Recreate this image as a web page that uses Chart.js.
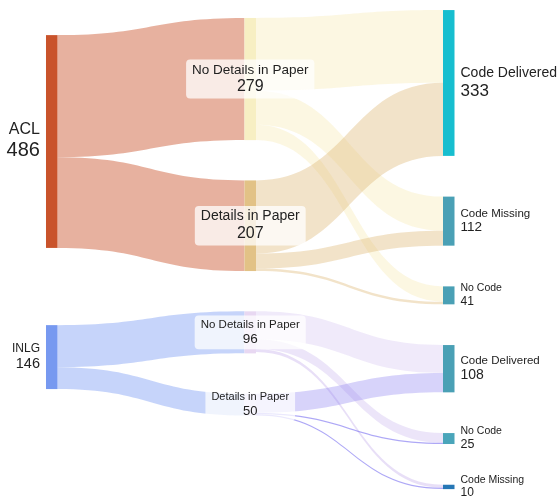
<!DOCTYPE html>
<html>
<head>
<meta charset="utf-8">
<script src="https://cdn.jsdelivr.net/npm/chart.js@4.4.1/dist/chart.umd.min.js"></script>
<style>
  body { margin: 0; background: #fff; }
  #wrap { width: 560px; height: 497px; position: relative; }
</style>
</head>
<body>
<div id="wrap"><canvas id="sankey"></canvas></div>
<script>
// nodes
const nodeNames = ['ACL', 'INLG',
  'No Details in Paper', 'Details in Paper', 'No Details in Paper', 'Details in Paper',
  'Code Delivered', 'Code Missing', 'No Code', 'Code Delivered', 'No Code', 'Code Missing'];
const nodeColumns = [0, 0, 1, 1, 1, 1, 2, 2, 2, 2, 2, 2];

// flows (source index -> target index)
const linkSources = [0, 0, 1, 1, 2, 2, 2, 3, 3, 3, 4, 4, 4, 5, 5, 5];
const linkTargets = [2, 3, 4, 5, 6, 7, 8, 6, 7, 8, 9, 10, 11, 9, 10, 11];
const linkValues = [279, 207, 96, 50, 166, 78, 35, 167, 34, 6, 64, 22, 7, 44, 3, 3];

// styles
const nodeColors = ['#c9532b', '#7799f0', '#f7efc3', '#e2c286', '#e8d8f2', '#dedafa',
  '#17becf', '#4aa0b5', '#4aa0b5', '#4aa0b5', '#4aa5ba', '#2677b5'];
const linkColors = [
  'rgba(201,83,43,0.45)', 'rgba(201,83,43,0.45)',
  'rgba(120,153,242,0.42)', 'rgba(120,153,242,0.42)',
  'rgba(245,225,140,0.25)', 'rgba(245,225,140,0.25)', 'rgba(245,225,140,0.25)',
  'rgba(222,184,120,0.4)', 'rgba(222,184,120,0.4)', 'rgba(222,184,120,0.4)',
  'rgba(180,150,230,0.2)', 'rgba(180,150,230,0.25)', 'rgba(180,150,230,0.3)',
  'rgba(140,130,240,0.35)', 'rgba(120,110,240,0.6)', 'rgba(120,110,240,0.6)'
];
const nameFont = [16, 12, 13.5, 14, 11.5, 11, 14, 11.5, 10.5, 11.5, 10.5, 10.5];
const valueFont = [20, 14.5, 16, 16, 13.5, 13, 17, 13.5, 12, 14, 12.5, 12];

const nodeWidth = 11.5;      // px
const nodeGap = [0, 92, 93]; // flow units between stacked nodes
const columnTop = [0, 41, 23];
const fontFamily = '"Liberation Sans", Arial, sans-serif';

function layout() {
  const n = nodeNames.length;
  const inSum = new Array(n).fill(0);
  const outSum = new Array(n).fill(0);
  linkValues.forEach((v, i) => {
    outSum[linkSources[i]] += v;
    inSum[linkTargets[i]] += v;
  });
  const size = inSum.map((v, i) => Math.max(v, outSum[i]));
  const top = new Array(n).fill(0);

  // right and middle columns are stacked from the top
  [2, 1].forEach(c => {
    let y = columnTop[c];
    nodeColumns.forEach((col, i) => {
      if (col === c) { top[i] = y; y += size[i] + nodeGap[c]; }
    });
  });
  // first column sits at the weighted centre of its targets
  nodeColumns.forEach((col, i) => {
    if (col !== 0) return;
    let sum = 0, w = 0;
    linkValues.forEach((v, k) => {
      if (linkSources[k] === i) {
        const t = linkTargets[k];
        sum += v * (top[t] + size[t] / 2);
        w += v;
      }
    });
    top[i] = sum / w - size[i] / 2;
  });

  // offsets of each flow inside its source and target nodes
  const srcOff = new Array(linkValues.length).fill(0);
  const tgtOff = new Array(linkValues.length).fill(0);
  for (let i = 0; i < n; i++) {
    const outs = linkValues.map((v, k) => k).filter(k => linkSources[k] === i)
      .sort((a, b) => top[linkTargets[a]] - top[linkTargets[b]]);
    let off = 0;
    outs.forEach(k => { srcOff[k] = off; off += linkValues[k]; });
    const ins = linkValues.map((v, k) => k).filter(k => linkTargets[k] === i)
      .sort((a, b) => top[linkSources[a]] - top[linkSources[b]]);
    off = 0;
    ins.forEach(k => { tgtOff[k] = off; off += linkValues[k]; });
  }
  return { size, top, srcOff, tgtOff };
}

const L = layout();

function roundRect(ctx, x, y, w, h, r) {
  ctx.beginPath();
  ctx.moveTo(x + r, y);
  ctx.lineTo(x + w - r, y);
  ctx.quadraticCurveTo(x + w, y, x + w, y + r);
  ctx.lineTo(x + w, y + h - r);
  ctx.quadraticCurveTo(x + w, y + h, x + w - r, y + h);
  ctx.lineTo(x + r, y + h);
  ctx.quadraticCurveTo(x, y + h, x, y + h - r);
  ctx.lineTo(x, y + r);
  ctx.quadraticCurveTo(x, y, x + r, y);
  ctx.closePath();
}

const sankeyPlugin = {
  id: 'sankey',
  afterDatasetsDraw(chart) {
    const ctx = chart.ctx;
    const xs = chart.scales.x, ys = chart.scales.y;
    const px = c => xs.getPixelForValue(c);
    const py = v => ys.getPixelForValue(v);
    ctx.save();

    // flows
    linkValues.forEach((v, k) => {
      const s = linkSources[k], t = linkTargets[k];
      const x0 = px(nodeColumns[s]) + nodeWidth;
      const x1 = px(nodeColumns[t]);
      const y0a = py(L.top[s] + L.srcOff[k]), y0b = py(L.top[s] + L.srcOff[k] + v);
      const y1a = py(L.top[t] + L.tgtOff[k]), y1b = py(L.top[t] + L.tgtOff[k] + v);
      const xm = (x0 + x1) / 2;
      ctx.beginPath();
      ctx.moveTo(x0, y0a);
      ctx.bezierCurveTo(xm, y0a, xm, y1a, x1, y1a);
      ctx.lineTo(x1, y1b);
      ctx.bezierCurveTo(xm, y1b, xm, y0b, x0, y0b);
      ctx.closePath();
      ctx.fillStyle = linkColors[k];
      ctx.fill();
    });

    // nodes
    nodeNames.forEach((name, i) => {
      const x = px(nodeColumns[i]);
      const y0 = py(L.top[i]), y1 = py(L.top[i] + L.size[i]);
      ctx.fillStyle = nodeColors[i];
      ctx.fillRect(x, y0, nodeWidth, y1 - y0);
    });

    // labels
    ctx.textBaseline = 'middle';
    nodeNames.forEach((name, i) => {
      const col = nodeColumns[i];
      const x = px(col);
      const cy = (py(L.top[i]) + py(L.top[i] + L.size[i])) / 2;
      const h1 = nameFont[i] * 1.15, h2 = valueFont[i] * 1.15;
      const top = cy - (h1 + h2) / 2;
      const yName = top + h1 / 2, yVal = top + h1 + h2 / 2;
      const value = String(Math.round(L.size[i]));
      const fName = nameFont[i] + 'px ' + fontFamily;
      const fVal = valueFont[i] + 'px ' + fontFamily;
      let tx;
      if (col === 0) {
        ctx.textAlign = 'right';
        tx = x - 6;
      } else if (col === 2) {
        ctx.textAlign = 'left';
        tx = x + nodeWidth + 6;
      } else {
        ctx.textAlign = 'center';
        tx = x + nodeWidth / 2;
        ctx.font = fName;
        const w1 = ctx.measureText(name).width;
        ctx.font = fVal;
        const w2 = ctx.measureText(value).width;
        const bw = Math.max(w1, w2) + 12;
        const bh = h1 + h2 + 5;
        ctx.fillStyle = 'rgba(255,255,255,0.75)';
        roundRect(ctx, tx - bw / 2, cy - bh / 2, bw, bh, 4);
        ctx.fill();
      }
      ctx.fillStyle = '#222';
      ctx.font = fName;
      ctx.fillText(name, tx, yName);
      ctx.font = fVal;
      ctx.fillText(value, tx, yVal);
    });
    ctx.restore();
  }
};

new Chart(document.getElementById('sankey'), {
  type: 'scatter',
  data: { datasets: [{ data: [] }] },
  options: {
    responsive: true,
    maintainAspectRatio: false,
    animation: false,
    layout: { padding: 0 },
    plugins: { legend: { display: false }, tooltip: { enabled: false } },
    scales: {
      x: { type: 'linear', display: false, min: -0.2317, max: 2.5894 },
      y: { type: 'linear', display: false, reverse: true, min: 0, max: 1135 }
    }
  },
  plugins: [sankeyPlugin]
});
</script>
</body>
</html>
